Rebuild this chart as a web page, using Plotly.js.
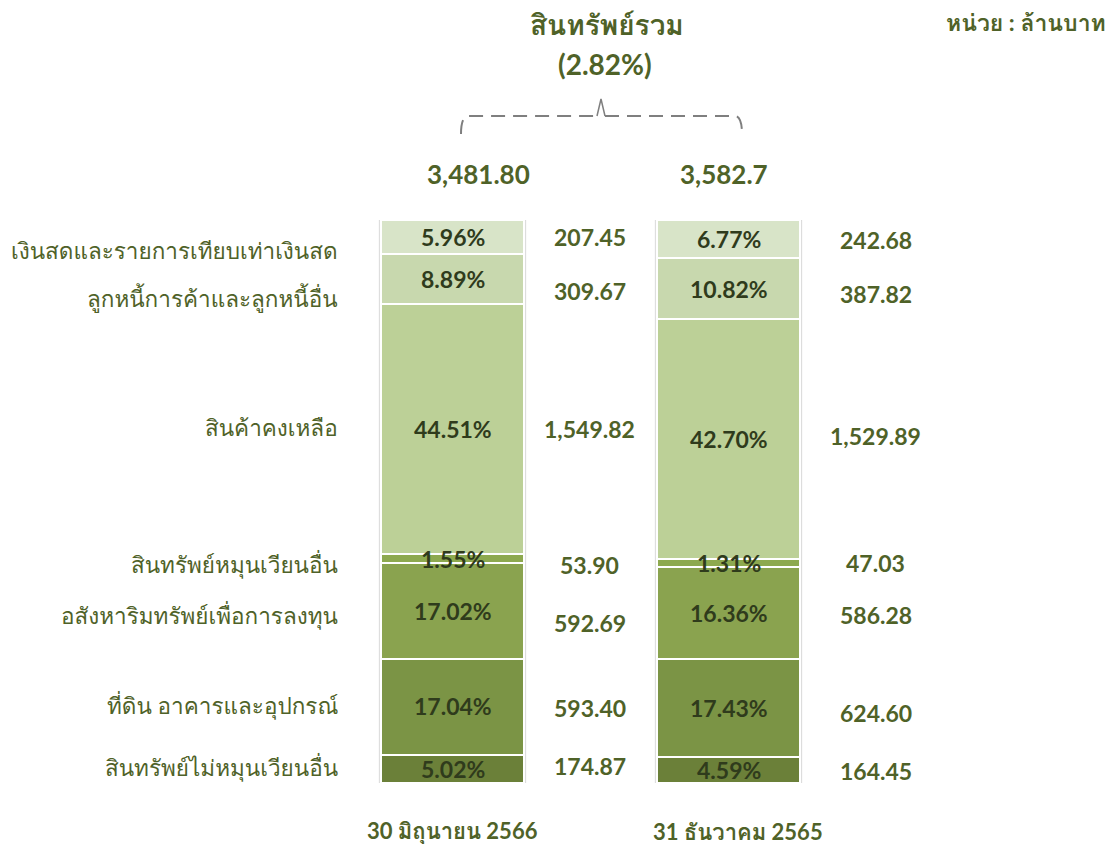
<!DOCTYPE html>
<html><head><meta charset="utf-8">
<script src="https://cdn.plot.ly/plotly-3.0.1.min.js"></script>
<style>html,body{margin:0;padding:0;background:#fff}</style>
</head><body>
<div id="chart" style="width:1116px;height:844px"></div>
<script>
// Data (bottom to top)
const categories = ["สินทรัพย์ไม่หมุนเวียนอื่น","ที่ดิน อาคารและอุปกรณ์","อสังหาริมทรัพย์เพื่อการลงทุน","สินทรัพย์หมุนเวียนอื่น","สินค้าคงเหลือ","ลูกหนี้การค้าและลูกหนี้อื่น","เงินสดและรายการเทียบเท่าเงินสด"];
const periods = ["30 มิถุนายน 2566","31 ธันวาคม 2565"];
const amountsJun66 = [174.87, 593.40, 592.69, 53.90, 1549.82, 309.67, 207.45];
const amountsDec65 = [164.45, 624.60, 586.28, 47.03, 1529.89, 387.82, 242.68];
const pctJun66 = ["5.02%","17.04%","17.02%","1.55%","44.51%","8.89%","5.96%"];
const pctDec65 = ["4.59%","17.43%","16.36%","1.31%","42.70%","10.82%","6.77%"];
const valueLabelsJun66 = ["174.87","593.40","592.69","53.90","1,549.82","309.67","207.45"];
const valueLabelsDec65 = ["164.45","624.60","586.28","47.03","1,529.89","387.82","242.68"];
const totalLabels = ["3,481.80","3,582.7"];
const growthLabel = "(2.82%)";
const chartTitle = "สินทรัพย์รวม";
const unitLabel = "หน่วย : ล้านบาท";

const colors = ["#6B8039","#7B9445","#8AA34F","#8DA94F","#BCD097","#C8D8AE","#D8E4C8"];
const green = "#4F6228";
const dark = "#2F3B1C";
const FONT = "Lato, Waree, Tahoma, 'Leelawadee UI', Loma, Garuda, 'Noto Sans Thai', 'Noto Sans Thai UI', 'DejaVu Sans', sans-serif";

// px mapping helpers (layout margins l=r=0)
const W = 1116, H = 844, T = 220, B = 61;
const px = x => x / W;
const py = y => (H - B - y) / (H - T - B);

const traces = categories.map((c, i) => ({
  type: "bar",
  name: c,
  x: periods,
  y: [amountsJun66[i], amountsDec65[i]],
  marker: {color: colors[i], line: {color: "#FFFFFF", width: 2}},
  width: 0.52,
  hoverinfo: "none",
  showlegend: false
}));

function mids(arr) {
  const tot = arr.reduce((a, b) => a + b, 0);
  let c = 0; return arr.map(v => { const m = (c + v / 2) / tot * 100; c += v; return m; });
}
const midJ = mids(amountsJun66), midD = mids(amountsDec65);

const ann = [];
const pctShiftJ = [0, 1, 0, 0, 0, 0, 0];
const pctShiftD = [0, 0, 0, 0, 0, 0, 0];
const valShiftJ = [3, -1, -12, -6, 0, -12, 0];
const valShiftD = [-1, -5, -2, 0, 3, -5, -1];
const labShift = [2, 2, -4, -5, 1, -19, -14];
const mid = {xanchor: "center", yanchor: "middle", showarrow: false};
categories.forEach((c, i) => {
  ann.push({...mid, x: periods[0], y: midJ[i], xref: "x", yref: "y", text: pctJun66[i], yshift: pctShiftJ[i], font: {family: FONT, size: 23, color: dark, weight: 700}});
  ann.push({...mid, x: periods[1], y: midD[i], xref: "x", yref: "y", text: pctDec65[i], yshift: pctShiftD[i], font: {family: FONT, size: 23, color: dark, weight: 700}});
  ann.push({...mid, x: periods[0], y: midJ[i], xref: "x", yref: "y", text: valueLabelsJun66[i], xshift: 137, yshift: valShiftJ[i], font: {family: FONT, size: 23, color: green, weight: 700}});
  ann.push({...mid, x: periods[1], y: midD[i], xref: "x", yref: "y", text: valueLabelsDec65[i], xshift: 147, yshift: valShiftD[i], font: {family: FONT, size: 23, color: green, weight: 700}});
  ann.push({...mid, xanchor: "right", x: px(340), y: midJ[i], xref: "paper", yref: "y", text: c, yshift: labShift[i], font: {family: FONT, size: 22.5, color: green}});
});
// totals
ann.push({...mid, x: periods[0], y: 100, xref: "x", yref: "y", text: totalLabels[0], xshift: 26, yshift: 46, font: {family: FONT, size: 26, color: green, weight: 700}});
ann.push({...mid, x: periods[1], y: 100, xref: "x", yref: "y", text: totalLabels[1], xshift: -5, yshift: 46, font: {family: FONT, size: 26, color: green, weight: 700}});
// period labels
ann.push({...mid, x: periods[0], y: 0, xref: "x", yref: "y", text: periods[0], yshift: -48, font: {family: FONT, size: 22, color: green, weight: 700}});
ann.push({...mid, x: periods[1], y: 0, xref: "x", yref: "y", text: periods[1], xshift: 9, yshift: -48, font: {family: FONT, size: 22, color: green, weight: 700}});
// title, growth, unit
ann.push({...mid, x: px(607), y: py(24), xref: "paper", yref: "paper", text: chartTitle, font: {family: FONT, size: 28, color: green, weight: 700}});
ann.push({...mid, x: px(605), y: py(64), xref: "paper", yref: "paper", text: growthLabel, font: {family: FONT, size: 28, color: green, weight: 700}});
ann.push({...mid, xanchor: "right", x: px(1108), y: py(22), xref: "paper", yref: "paper", text: unitLabel, font: {family: FONT, size: 23, color: green, weight: 700}});

// brace (decoration)
const P = (x, y) => `${px(x)},${py(y)}`;
const shapes = [
  {type: "path", xref: "paper", yref: "paper", path: `M ${P(461,134)} Q ${P(461,118)} ${P(467,116)} L ${P(597,116)}`, line: {color: "#7F7F7F", width: 2, dash: "14px,8px"}},
  {type: "path", xref: "paper", yref: "paper", path: `M ${P(605,116)} L ${P(736,116)} Q ${P(742,118)} ${P(742,134)}`, line: {color: "#7F7F7F", width: 2, dash: "14px,8px"}},
  {type: "path", xref: "paper", yref: "paper", path: `M ${P(597,116)} L ${P(601,99)} L ${P(605,116)}`, line: {color: "#7F7F7F", width: 1.5}},
  {type: "rect", xref: "x", yref: "y", x0: -0.265, x1: 0.265, y0: 0, y1: 100, line: {color: "#D9D9D9", width: 1}, layer: "below"},
  {type: "rect", xref: "x", yref: "y", x0: 0.735, x1: 1.265, y0: 0, y1: 100, line: {color: "#D9D9D9", width: 1}, layer: "below"}
];

const layout = {
  width: W, height: H,
  margin: {l: 0, r: 0, t: T, b: B},
  paper_bgcolor: "#FFFFFF", plot_bgcolor: "#FFFFFF",
  barmode: "stack", barnorm: "percent",
  xaxis: {type: "category", range: [-1.6395, 2.404], visible: false, fixedrange: true},
  yaxis: {range: [0, 100], visible: false, fixedrange: true},
  annotations: ann,
  shapes: shapes,
  font: {family: FONT}
};
Plotly.newPlot("chart", traces, layout, {displayModeBar: false, staticPlot: true});
</script>
</body></html>
